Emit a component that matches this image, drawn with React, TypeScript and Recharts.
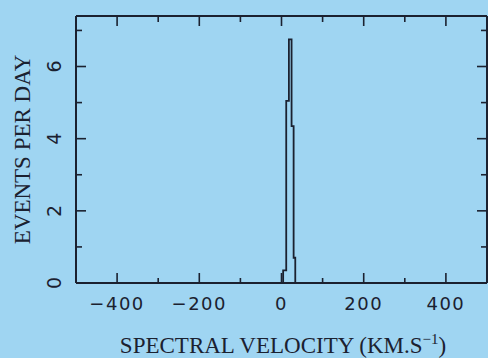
import React from 'react';
import { LineChart, Line, XAxis, YAxis } from 'recharts';

// histogram bin edges (km/s) and event rates, drawn as a step line
const velocity = [4, 4, 11.5, 18, 24.5, 29.5, 33.5];
const events = [0, 0.35, 5.05, 6.75, 4.35, 0.7, 0];

const xTicks = [-400, -300, -200, -100, 0, 100, 200, 300, 400];
const yTicks = [0, 1, 2, 3, 4, 5, 6, 7];

const data = velocity.map((v, i) => ({ v, rate: events[i] }));

const INK = '#1b2130';
const BG = '#9fd5f2';

function BottomTick(props: any) {
  const { x, y, payload } = props;
  const major = payload.value % 200 === 0;
  const label = payload.value < 0 ? '\u2212' + Math.abs(payload.value) : String(payload.value);
  return (
    <g>
      <line x1={x} y1={y} x2={x} y2={y - (major ? 10 : 5)} stroke={INK} strokeWidth={1.6} />
      {major && (
        <text x={x} y={y + 27} textAnchor="middle" fill={INK}
          style={{ fontFamily: 'DejaVu Sans', fontSize: 18, letterSpacing: 1.5 }}>
          {label}
        </text>
      )}
    </g>
  );
}

function TopTick(props: any) {
  const { x, y, payload } = props;
  const major = payload.value % 200 === 0;
  return <line x1={x} y1={y} x2={x} y2={y + (major ? 10 : 6)} stroke={INK} strokeWidth={1.6} />;
}

function LeftTick(props: any) {
  const { x, y, payload } = props;
  const major = payload.value % 2 === 0;
  return (
    <g>
      <line x1={x} y1={y} x2={x + (major ? 10 : 6)} y2={y} stroke={INK} strokeWidth={1.6} />
      {major && (
        <text x={61} y={y} textAnchor="middle" fill={INK} transform={`rotate(-90, 61, ${y})`}
          style={{ fontFamily: 'DejaVu Sans', fontSize: 19 }}>
          {payload.value}
        </text>
      )}
    </g>
  );
}

function RightTick(props: any) {
  const { x, y, payload } = props;
  const major = payload.value % 2 === 0;
  return <line x1={x} y1={y} x2={x - (major ? 10 : 6)} y2={y} stroke={INK} strokeWidth={1.6} />;
}

export default function App() {
  return (
    <div style={{ position: 'fixed', left: 0, top: 0, width: 488, height: 358, background: BG }}>
      <LineChart width={488} height={358} data={data}
        margin={{ top: 15, right: 0, bottom: 74, left: 75 }}>
        <XAxis xAxisId="bottom" dataKey="v" type="number" domain={[-500, 500]} ticks={xTicks}
          interval={0} height={1} tickSize={0} tickMargin={0} tickLine={false}
          axisLine={{ stroke: INK, strokeWidth: 2 }} tick={<BottomTick />} />
        <XAxis xAxisId="top" orientation="top" dataKey="v" type="number" domain={[-500, 500]}
          ticks={xTicks} interval={0} height={1} tickSize={0} tickMargin={0} tickLine={false}
          axisLine={{ stroke: INK, strokeWidth: 2 }} tick={<TopTick />} />
        <YAxis yAxisId="left" type="number" domain={[0, 7.4]} ticks={yTicks} interval={0}
          width={1} tickSize={0} tickMargin={0} tickLine={false}
          axisLine={{ stroke: INK, strokeWidth: 2 }} tick={<LeftTick />} />
        <YAxis yAxisId="right" orientation="right" type="number" domain={[0, 7.4]} ticks={yTicks}
          interval={0} width={1} tickSize={0} tickMargin={0} tickLine={false}
          axisLine={{ stroke: INK, strokeWidth: 2 }} tick={<RightTick />} />
        <Line xAxisId="bottom" yAxisId="left" type="stepAfter" dataKey="rate" stroke={INK}
          strokeWidth={1.8} dot={false} isAnimationActive={false} />
        <Line xAxisId="top" yAxisId="right" type="stepAfter" dataKey="rate" stroke="none"
          dot={false} isAnimationActive={false} />
      </LineChart>
      <svg width={488} height={358} style={{ position: 'absolute', left: 0, top: 0, pointerEvents: 'none' }}>
        <text x={30} y={149.5} textAnchor="middle" fill={INK} transform="rotate(-90, 30, 149.5)"
          style={{ fontFamily: 'Liberation Serif', fontSize: 23 }}>
          EVENTS PER DAY
        </text>
        <text x={283} y={353} textAnchor="middle" fill={INK}
          style={{ fontFamily: 'Liberation Serif', fontSize: 23 }}>
          SPECTRAL VELOCITY (KM.S<tspan dy={-9} fontSize={15}>{'\u2212'}1</tspan><tspan dy={9}>)</tspan>
        </text>
      </svg>
    </div>
  );
}
